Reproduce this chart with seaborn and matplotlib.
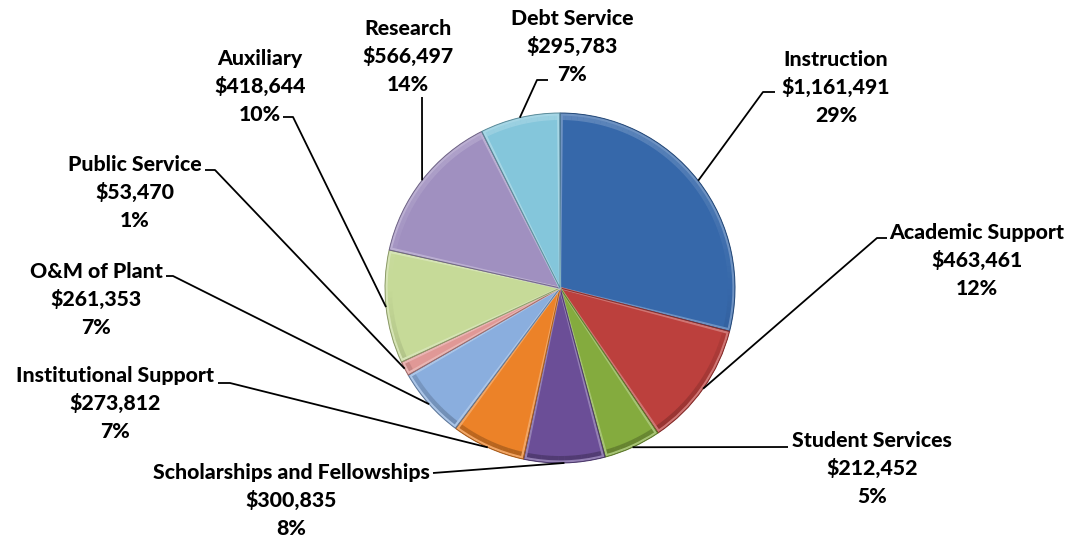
import matplotlib
matplotlib.use("Agg")
import matplotlib.pyplot as plt
from matplotlib.patches import Wedge
from matplotlib.colors import to_rgb
import numpy as np
import seaborn as sns

# Expenditure categories (clockwise from 12 o'clock)
categories = [
    "Instruction", "Academic Support", "Student Services",
    "Scholarships and Fellowships", "Institutional Support", "O&M of Plant",
    "Public Service", "Auxiliary", "Research", "Debt Service",
]
amounts = [1161491, 463461, 212452, 300835, 273812, 261353,
           53470, 418644, 566497, 295783]
slice_colors = ["#3668aa", "#bc403d", "#84ab3e", "#6b4e97", "#ec8228",
                "#8aaede", "#e09896", "#c6da98", "#a090c0", "#84c6db"]

sns.set_theme(style="white")
plt.rcParams["font.family"] = ["Lato", "DejaVu Sans"]

W, H = 1067, 537
fig = plt.figure(figsize=(W / 100, H / 100), dpi=100)
ax = fig.add_axes([0, 0, 1, 1])


def Y(y):
    """Convert a top-down pixel row to the axes' upward y."""
    return H - y


CX, CY, R = 560, 288, 175

wedges, _ = ax.pie(amounts, colors=slice_colors, startangle=90,
                   counterclock=False, center=(CX, Y(CY)), radius=R,
                   wedgeprops=dict(linewidth=0))


def shade(c, f):
    r, g, b = to_rgb(c)
    if f >= 0:
        return (r + (1 - r) * f, g + (1 - g) * f, b + (1 - b) * f)
    return (r * (1 + f), g * (1 + f), b * (1 + f))


# Soft bevel: rim lit from above, shadowed below; highlighted seams
STEP = 2.0
for w, c in zip(wedges, slice_colors):
    t1, t2 = w.theta1, w.theta2
    n = max(1, int(np.ceil((t2 - t1) / STEP)))
    edges = np.linspace(t1, t2, n + 1)
    for a, b in zip(edges[:-1], edges[1:]):
        s = np.sin(np.deg2rad((a + b) / 2))
        f = 0.22 * s if s > 0 else 0.28 * s
        ax.add_patch(Wedge((CX, Y(CY)), R, a, b + 0.05, width=R * 0.04,
                           facecolor=shade(c, f), edgecolor="none",
                           zorder=2, alpha=0.85))
    # light inner bevel just inside each slice's outline
    ax.add_patch(Wedge((CX, Y(CY)), R - 1.5, t1 + 0.6, t2 - 0.6,
                       facecolor="none", edgecolor=shade(c, 0.28),
                       linewidth=1.6, zorder=3))
    # thin darker seam on the outline
    ax.add_patch(Wedge((CX, Y(CY)), R, t1, t2, facecolor="none",
                       edgecolor=shade(c, -0.3), linewidth=0.7, zorder=3))

# Label blocks: centre x, first-line y, and the leader's elbow points
label_layout = {
    "Instruction": dict(x=836, y=59, path=[(763, 92), (775, 92)]),
    "Academic Support": dict(x=977, y=232, path=[(877, 238), (887, 238)]),
    "Student Services": dict(x=872, y=440, path=[(788, 447)]),
    "Scholarships and Fellowships": dict(x=291, y=472, path=[(433, 473)]),
    "Institutional Support": dict(x=115, y=375, path=[(230, 383), (218, 383)]),
    "O&M of Plant": dict(x=96, y=271, path=[(173, 276), (166, 276)]),
    "Public Service": dict(x=135, y=164, path=[(215, 170), (205, 170)]),
    "Auxiliary": dict(x=260, y=58, path=[(293, 117), (283, 117)]),
    "Research": dict(x=408, y=28, path=[(422, 97)]),
    "Debt Service": dict(x=572, y=18, path=[(537, 80), (548, 80)]),
}
LINE_GAP = 28

total = sum(amounts)
for w, name, val in zip(wedges, categories, amounts):
    lay = label_layout[name]
    mid = np.deg2rad((w.theta1 + w.theta2) / 2)
    ax_, ay_ = CX + R * np.cos(mid), Y(CY) + R * np.sin(mid)
    xs = [ax_] + [p[0] for p in lay["path"]]
    ys = [ay_] + [Y(p[1]) for p in lay["path"]]
    ax.plot(xs, ys, color="black", linewidth=1.3, zorder=4,
            solid_capstyle="butt")
    lines = [name, f"${val:,}", f"{val / total:.0%}"]
    for i, s in enumerate(lines):
        ax.text(lay["x"], Y(lay["y"] + i * LINE_GAP + 7), s,
                ha="center", va="baseline", fontsize=15.3,
                fontweight="black", color="black", zorder=5)

ax.set_xlim(0, W)
ax.set_ylim(0, H)
ax.set_aspect("equal")
ax.axis("off")
fig.savefig("out.png", dpi=100, facecolor="white")
